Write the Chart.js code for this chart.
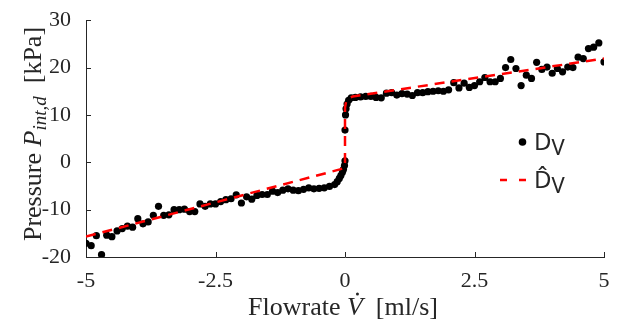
<!DOCTYPE html>
<html><head><meta charset="utf-8">
<script src="https://cdn.jsdelivr.net/npm/chart.js@4.4.1/dist/chart.umd.min.js"></script>
<style>html,body{margin:0;padding:0;background:#fff;}canvas{display:block;}</style>
</head><body>
<canvas id="c" width="621" height="323"></canvas>
<script>
// Measured data (flowrate ml/s, pressure kPa)
const flowMeas = [-5.0,-4.9,-4.8,-4.7,-4.6,-4.5,-4.4,-4.3,-4.2,-4.1,-4.0,-3.9,-3.8,-3.7,-3.6,-3.5,-3.4,-3.3,-3.2,-3.1,-3.0,-2.9,-2.8,-2.7,-2.6,-2.5,-2.4,-2.3,-2.2,-2.1,-2.0,-1.9,-1.8,-1.7,-1.6,-1.5,-1.4,-1.3,-1.2,-1.1,-1.0,-0.9,-0.8,-0.7,-0.6,-0.5,-0.4,-0.3,-0.2,-0.15,-0.11,-0.08,-0.05,-0.03,-0.01,0.0,0.0,0.01,0.02,0.04,0.07,0.12,0.2,0.3,0.4,0.5,0.6,0.7,0.8,0.9,1.0,1.1,1.2,1.3,1.4,1.5,1.6,1.7,1.8,1.9,2.0,2.1,2.2,2.3,2.4,2.5,2.6,2.7,2.8,2.9,3.0,3.1,3.2,3.3,3.4,3.5,3.6,3.7,3.8,3.9,4.0,4.1,4.2,4.3,4.4,4.5,4.6,4.7,4.8,4.9,5.0];
const pressMeas = [-17.1,-17.6,-15.5,-19.5,-15.4,-15.7,-14.5,-14.0,-13.5,-13.7,-11.9,-13.0,-12.6,-11.2,-9.3,-11.2,-11.1,-10.0,-10.0,-9.9,-10.4,-10.4,-8.8,-9.3,-8.8,-8.8,-8.3,-7.9,-7.7,-6.9,-8.6,-7.3,-7.8,-7.0,-6.8,-6.8,-6.1,-6.4,-5.9,-5.6,-5.9,-6.0,-5.7,-5.4,-5.6,-5.5,-5.4,-5.1,-4.7,-4.1,-3.4,-2.8,-2.1,-1.5,-0.7,0.3,6.8,10.0,11.3,12.3,13.1,13.6,13.7,13.8,13.9,13.9,13.7,13.6,14.6,14.7,14.2,14.5,14.4,14.1,14.7,14.7,14.9,15.0,15.1,15.0,15.3,16.8,15.7,16.7,15.8,16.2,17.0,17.9,17.0,17.0,17.7,20.0,21.7,19.8,16.2,18.4,17.7,21.1,19.6,20.1,18.8,19.8,19.1,20.1,20.0,22.2,21.9,24.0,24.3,25.2,21.2];
// Model curve
const flowFit = [-5.0,-0.3,-0.1,-0.02,0.0,0.0,0.02,0.06,0.15,5.0];
const pressFit = [-15.7,-2.1,-1.5,-1.2,0.0,11.5,12.8,13.4,13.9,21.9];
// Tick values
const xTicks = [-5,-2.5,0,2.5,5];
const yTicks = [-20,-10,0,10,20,30];

const measPts = flowMeas.map((x,i)=>({x:x,y:pressMeas[i]}));
const fitPts = flowFit.map((x,i)=>({x:x,y:pressFit[i]}));
const AX = '#262626';
const SERIF = '"Liberation Serif", "Times New Roman", serif';

const extras = {
  id:'extras',
  afterDraw(chart){
    const ctx = chart.ctx, xs = chart.scales.x, ys = chart.scales.y;
    const a = chart.chartArea;
    ctx.save();
    // inward ticks
    ctx.strokeStyle = AX; ctx.lineWidth = 1;
    ctx.beginPath();
    xTicks.forEach(v=>{const p=Math.round(xs.getPixelForValue(v))+0.5; ctx.moveTo(p,a.bottom); ctx.lineTo(p,a.bottom-5);});
    yTicks.forEach(v=>{const p=Math.round(ys.getPixelForValue(v))+0.5; ctx.moveTo(a.left,p); ctx.lineTo(a.left+5,p);});
    ctx.stroke();
    ctx.fillStyle = AX;
    const drawParts = (parts, cx, by)=>{
      let w=0; parts.forEach(p=>{ctx.font=p.f; p.w=ctx.measureText(p.t).width+(p.gap||0); w+=p.w;});
      let x=cx-w/2;
      ctx.textBaseline='alphabetic'; ctx.textAlign='left';
      parts.forEach(p=>{ctx.font=p.f; ctx.fillText(p.t,x,by+p.dy);
        if(p.dot){ctx.beginPath(); ctx.arc(x+p.w*0.66, by-21, 1.5, 0, Math.PI*2); ctx.fill();}
        x+=p.w;});
    };
    // x title
    drawParts([
      {t:'Flowrate ', f:'26px '+SERIF, dy:0},
      {t:'V', f:'italic 26px '+SERIF, dy:0, dot:true, gap:0},
      {t:'  [ml/s]', f:'26px '+SERIF, dy:0}
    ], 343, 315);
    // y title
    ctx.save();
    ctx.translate(41, 134);
    ctx.rotate(-Math.PI/2);
    drawParts([
      {t:'Pressure ', f:'26px '+SERIF, dy:0},
      {t:'P', f:'italic 26px '+SERIF, dy:0},
      {t:'int,d', f:'italic 19px '+SERIF, dy:5},
      {t:'  [kPa]', f:'26px '+SERIF, dy:0}
    ], 0, 0);
    ctx.restore();
    // legend
    const LF = '"Noto Sans", "DejaVu Sans", sans-serif';
    ctx.fillStyle = '#000';
    ctx.beginPath(); ctx.arc(522.5, 142, 3.8, 0, Math.PI*2); ctx.fill();
    ctx.fillStyle = AX;
    ctx.font = '24px '+LF; ctx.fillText('D', 534, 150);
    let dw = ctx.measureText('D').width;
    ctx.font = '22px '+LF; ctx.fillText('V', 534+dw, 155);
    ctx.strokeStyle = '#ff0000'; ctx.lineWidth = 2.5; ctx.setLineDash([7,12]);
    ctx.beginPath(); ctx.moveTo(500,180); ctx.lineTo(527,180); ctx.stroke();
    ctx.setLineDash([]);
    ctx.font = '24px '+LF; ctx.fillText('D\u0302', 534, 188);
    ctx.font = '22px '+LF; ctx.fillText('V', 534+dw, 193);
    ctx.restore();
  }
};

new Chart(document.getElementById('c'), {
  type:'scatter',
  data:{datasets:[
    {label:'fit', data:fitPts, showLine:true, pointRadius:0, borderColor:'#ff0000', borderWidth:2.5, borderDash:[10,7], fill:false, tension:0, order:0},
    {label:'meas', data:measPts, showLine:false, pointRadius:3.6, pointBackgroundColor:'#000', pointBorderWidth:0, borderColor:'#000', order:1}
  ]},
  options:{
    responsive:false, animation:false, devicePixelRatio:1,
    layout:{padding:{top:14,right:17,left:0,bottom:0}},
    plugins:{legend:{display:false}, tooltip:{enabled:false}},
    scales:{
      x:{type:'linear', min:-5, max:5,
        afterBuildTicks(s){s.ticks = xTicks.map(v=>({value:v}));},
        afterFit(s){s.height=66;},
        grid:{display:false}, border:{display:true,color:AX,width:1},
        ticks:{color:AX, font:{family:SERIF,size:22}, padding:3, maxRotation:0, autoSkip:false}
      },
      y:{type:'linear', min:-20, max:30,
        afterBuildTicks(s){s.ticks = yTicks.map(v=>({value:v}));},
        afterFit(s){s.width=86;},
        grid:{display:false}, border:{display:true,color:AX,width:1},
        ticks:{color:AX, font:{family:SERIF,size:22}, padding:7, autoSkip:false}
      }
    }
  },
  plugins:[extras]
});
</script>
</body></html>
